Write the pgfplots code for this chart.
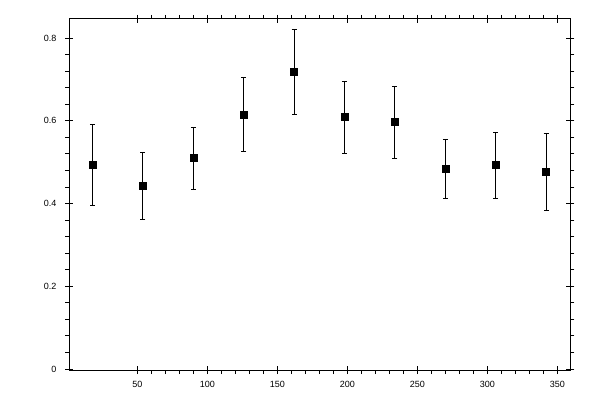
\documentclass[border=0pt]{standalone}
\usepackage{fontspec}
\setmainfont{Liberation Sans}
\usepackage{pgfplots}
\pgfplotsset{compat=1.18}
\usepackage{pgfplotstable}

\pgfplotstableread{
x    y      ep     em
18   0.495  0.097  0.099
54   0.444  0.080  0.082
90   0.510  0.075  0.075
126  0.616  0.089  0.090
162  0.718  0.104  0.102
198  0.609  0.087  0.087
234  0.597  0.087  0.087
270  0.485  0.071  0.072
306  0.493  0.079  0.080
342  0.476  0.094  0.092
}\bins

\pgfplotsset{
  frame/.style={
    at={(69.3pt,30pt)}, anchor=south west,
    scale only axis, width=501pt, height=351pt,
    xmin=1.43, xmax=359.3,
    ymin=-0.0024, ymax=0.8464,
    xtick={50,100,...,350},
    ytick={0,0.2,0.4,0.6,0.8},
    axis line style={line width=1pt},
    every tick/.style={black, line width=1pt},
    major tick length=4pt,
  },
}

\begin{document}
\begin{tikzpicture}
\path (0,0) rectangle (600pt,400pt);

% outward ticks, minor and major, with the labels
\begin{axis}[
    frame,
    minor x tick num=4,
    minor y tick num=4,
    minor tick length=4pt,
    tick align=outside,
    /pgf/number format/assume math mode=true,
    tick label style={font=\fontsize{9}{10}\selectfont},
    yticklabel style={anchor=east, inner sep=0pt, xshift=-8.6pt},
    xticklabel style={anchor=north, inner sep=0pt, yshift=-6.7pt},
]
\addplot[
    black, only marks,
    mark=square*, mark size=3.5pt,
    error bars/.cd,
    y dir=both, y explicit,
    error bar style={line width=1pt},
    error mark options={rotate=90, mark size=2.5pt, line width=1pt},
] table[x=x, y=y, y error plus=ep, y error minus=em] {\bins};
\end{axis}

% inward half of the major ticks
\begin{axis}[
    frame,
    tick align=inside,
    xticklabels={}, yticklabels={},
    axis line style={draw=none},
]
\end{axis}
\end{tikzpicture}
\end{document}
